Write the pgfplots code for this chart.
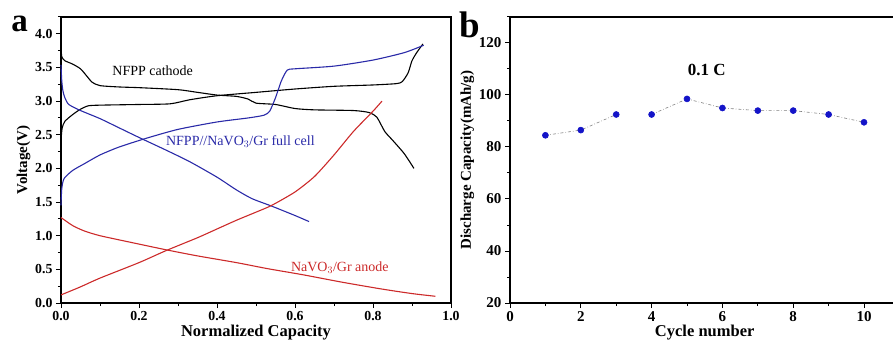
\documentclass[border=0pt]{standalone}
\usepackage{pgfplots}
\pgfplotsset{compat=1.18}
\usepackage{fontspec}
\setmainfont{Liberation Serif}
\definecolor{cblue}{HTML}{2A2AA8}
\definecolor{cred}{HTML}{CC2A2A}
\definecolor{mblue}{HTML}{1414C8}
\begin{document}
\begin{tikzpicture}
\useasboundingbox (0pt,0pt) rectangle (893pt,348pt);
\clip (0pt,0pt) rectangle (893pt,348pt);
\pgfplotsset{every axis/.style={
  scale only axis,
  axis line style={line width=1.3pt},
  tick style={line width=1pt,black},
  tick align=outside,
  xtick pos=bottom, ytick pos=left,
  major tick length=5pt, minor tick length=3pt,
  tick label style={font=\fontsize{13.8}{14}\selectfont\bfseries},
  label style={font=\fontsize{15}{16}\selectfont\bfseries},
  /pgf/number format/assume math mode=true,
}}
\begin{axis}[at={(61pt,45pt)}, anchor=south west, width=390pt, height=286pt,
  xmin=0, xmax=1, ymin=0, ymax=4.25,
  xtick={0,0.2,...,1.0}, minor xtick={0.1,0.3,...,0.9},
  ytick={0,0.5,...,4.0}, minor ytick={0.25,0.75,...,4.25},
  xticklabel style={/pgf/number format/.cd,fixed,fixed zerofill,precision=1},
  yticklabel style={/pgf/number format/.cd,fixed,fixed zerofill,precision=1},
  xlabel={Normalized Capacity}, ylabel={Voltage(V)},
  xlabel style={yshift=3pt, font=\fontsize{16.5}{17}\selectfont\bfseries}, ylabel style={yshift=-2pt},
  clip=false]
\addplot[black, line width=1.1pt, smooth, tension=0.4] coordinates {
(0,2.42)(0.003,2.6)(0.01,2.7)(0.03,2.8)(0.05,2.88)(0.07,2.93)(0.1,2.94)(0.2,2.95)(0.28,2.96)(0.33,3.02)(0.4,3.08)(0.5,3.13)(0.6,3.18)(0.7,3.22)(0.8,3.24)(0.86,3.26)(0.875,3.29)(0.89,3.42)(0.9,3.6)(0.912,3.72)(0.928,3.85)};
\addplot[black, line width=1.1pt, smooth, tension=0.4] coordinates {
(0,3.82)(0.002,3.66)(0.01,3.6)(0.03,3.55)(0.05,3.48)(0.065,3.38)(0.08,3.28)(0.1,3.23)(0.15,3.21)(0.2,3.2)(0.3,3.17)(0.35,3.13)(0.4,3.09)(0.45,3.07)(0.48,3.03)(0.5,2.97)(0.55,2.95)(0.6,2.89)(0.65,2.87)(0.75,2.86)(0.79,2.83)(0.81,2.76)(0.83,2.55)(0.85,2.42)(0.88,2.22)(0.905,2.0)};
\addplot[cblue, line width=1.1pt, smooth, tension=0.4] coordinates {
(0,3.54)(0.002,3.3)(0.005,3.15)(0.01,3.05)(0.02,2.95)(0.05,2.86)(0.1,2.74)(0.15,2.6)(0.2,2.46)(0.27,2.27)(0.33,2.1)(0.4,1.87)(0.45,1.68)(0.49,1.55)(0.54,1.44)(0.6,1.3)(0.636,1.21)};
\addplot[cblue, line width=1.1pt, smooth, tension=0.4] coordinates {
(0,1.45)(0.002,1.7)(0.008,1.85)(0.03,1.97)(0.06,2.07)(0.1,2.2)(0.15,2.32)(0.22,2.45)(0.3,2.58)(0.4,2.69)(0.48,2.75)(0.52,2.79)(0.535,2.85)(0.55,3.05)(0.565,3.3)(0.58,3.46)(0.6,3.48)(0.7,3.52)(0.8,3.61)(0.88,3.72)(0.93,3.83)};
\addplot[cred, line width=1.1pt, smooth, tension=0.4] coordinates {
(0,1.27)(0.03,1.15)(0.06,1.07)(0.1,1.0)(0.18,0.9)(0.27,0.79)(0.35,0.7)(0.45,0.6)(0.53,0.51)(0.62,0.42)(0.72,0.31)(0.82,0.21)(0.9,0.14)(0.96,0.1)};
\addplot[cred, line width=1.1pt, smooth, tension=0.4] coordinates {
(0,0.12)(0.05,0.24)(0.1,0.37)(0.2,0.6)(0.27,0.78)(0.35,0.97)(0.4,1.1)(0.45,1.23)(0.5,1.35)(0.54,1.45)(0.6,1.65)(0.65,1.88)(0.7,2.2)(0.75,2.55)(0.8,2.85)(0.823,3.0)};
\node[font=\fontsize{14}{15}\selectfont] at (axis cs:0.235,3.45) {NFPP cathode};
\node[font=\fontsize{14}{15}\selectfont, text=cblue] at (axis cs:0.46,2.4) {NFPP//NaVO$_3$/Gr full cell};
\node[font=\fontsize{14}{15}\selectfont, text=cred] at (axis cs:0.715,0.53) {NaVO$_3$/Gr anode};
\node[font=\fontsize{33}{33}\selectfont\bfseries, anchor=base west, inner sep=0pt] at (axis cs:-0.128,4.03) {a};
\end{axis}
\begin{axis}[at={(510pt,45pt)}, anchor=south west, width=389.4pt, height=286pt,
  axis line style={line width=2pt},
  tick label style={font=\fontsize{15}{16}\selectfont\bfseries},
  xmin=0, xmax=11, ymin=20, ymax=130,
  xtick={0,2,...,10}, minor xtick={1,3,...,9},
  ytick={20,40,...,120}, minor ytick={30,50,...,130},
  xlabel={Cycle number}, ylabel={Discharge Capacity(mAh/g)},
  xlabel style={yshift=3pt, font=\fontsize{16.5}{17}\selectfont\bfseries}, ylabel style={yshift=-2pt},
  clip=false]
\addplot[gray, line width=0.6pt, dash dot, mark=*, mark size=3pt, mark options={solid, fill=mblue, draw=mblue}] coordinates {(1,84.5)(2,86.5)(3,92.5)};
\addplot[gray, line width=0.6pt, dash dot, mark=*, mark size=3pt, mark options={solid, fill=mblue, draw=mblue}] coordinates {(4,92.5)(5,98.5)(6,95)(7,94)(8,94)(9,92.5)(10,89.5)};
\node[font=\fontsize{17}{18}\selectfont\bfseries] at (axis cs:5.56,109.6) {0.1 C};
\node[font=\fontsize{37}{37}\selectfont\bfseries, anchor=base west, inner sep=0pt] at (axis cs:-1.42,122.3) {b};
\end{axis}
\end{tikzpicture}
\end{document}
